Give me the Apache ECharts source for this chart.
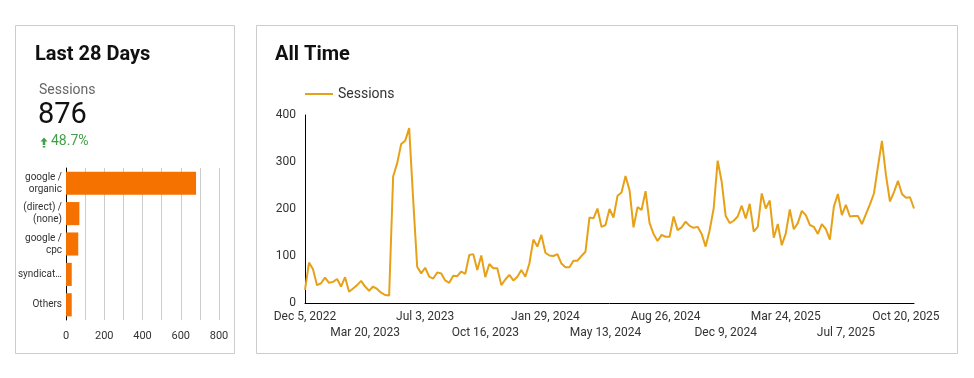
<!DOCTYPE html>
<html>
<head>
<meta charset="utf-8">
<script src="https://cdn.jsdelivr.net/npm/echarts@6/dist/echarts.min.js"></script>
<style>
html,body{margin:0;padding:0;background:#fff;}
#c{width:974px;height:378px;}
</style>
</head>
<body>
<div id="c"></div>
<script>
// ---- Data ----
const sourceCategories = ['google /\norganic', '(direct) /\n(none)', 'google /\ncpc', 'syndicat…', 'Others'];
const sourceSessions = [680, 70, 64, 30, 30];
const barTicks = [0, 200, 400, 600, 800];

const kpiLabel = 'Sessions';
const kpiValue = '876';
const kpiChange = '48.7%';

const startWeek = '2022-12-05';
const sessions = [
  28, 86, 72, 38, 42, 54, 43, 45, 51, 35,
  55, 24, 31, 38, 47, 35, 26, 35, 30, 22,
  17, 16, 269, 297, 338, 345, 372, 220, 77, 63,
  75, 56, 52, 65, 63, 48, 43, 58, 57, 67,
  62, 102, 104, 70, 101, 55, 83, 74, 74, 38,
  50, 60, 48, 56, 70, 56, 84, 135, 120, 145,
  107, 101, 100, 104, 84, 76, 76, 90, 90, 100,
  109, 182, 180, 201, 162, 166, 200, 182, 228, 235,
  270, 240, 161, 204, 198, 238, 170, 147, 132, 145,
  141, 141, 184, 155, 161, 173, 164, 160, 162, 147,
  120, 155, 201, 303, 258, 185, 170, 175, 184, 207,
  180, 211, 152, 162, 233, 201, 218, 139, 168, 123,
  148, 199, 157, 170, 196, 187, 166, 162, 147, 168,
  157, 135, 205, 232, 187, 209, 184, 185, 185, 168,
  189, 210, 233, 290, 345, 272, 216, 236, 260, 232,
  224, 225, 201
];
// x tick labels, alternating in two rows
const dateTicksRow1 = ['Dec 5, 2022','Jul 3, 2023','Jan 29, 2024','Aug 26, 2024','Mar 24, 2025','Oct 20, 2025'];
const dateTicksRow2 = ['Mar 20, 2023','Oct 16, 2023','May 13, 2024','Dec 9, 2024','Jul 7, 2025'];
const yTicks = [0, 100, 200, 300, 400];

// weekly category labels
const MONTHS = ['Jan','Feb','Mar','Apr','May','Jun','Jul','Aug','Sep','Oct','Nov','Dec'];
const weeks = [];
(function(){
  const d0 = new Date(startWeek + 'T00:00:00Z');
  for (let i = 0; i < sessions.length; i++) {
    const d = new Date(d0.getTime() + i * 7 * 86400000);
    weeks.push(MONTHS[d.getUTCMonth()] + ' ' + d.getUTCDate() + ', ' + d.getUTCFullYear());
  }
})();

const FONT = 'Roboto';
const chart = echarts.init(document.getElementById('c'), null, {renderer: 'canvas'});

function dateAxis(ticks, margin, showLine) {
  return {
    gridIndex: 1, type: 'category', data: weeks, boundaryGap: false, position: 'bottom',
    axisLine: {show: showLine, lineStyle: {color: '#000', width: 1}},
    axisTick: {show: false},
    splitLine: {show: false},
    axisLabel: {
      margin: margin, fontSize: 12, color: '#333', fontFamily: FONT,
      showMinLabel: true, showMaxLabel: true, hideOverlap: false,
      interval: (idx, val) => ticks.indexOf(val) >= 0,
      formatter: (val) => ticks.indexOf(val) >= 0 ? val : ''
    }
  };
}

chart.setOption({
  animation: false,
  textStyle: {fontFamily: FONT},
  title: [
    {text: 'Last 28 Days', left: 35, top: 45, padding: 0, textStyle: {fontFamily: FONT, fontSize: 20, fontWeight: 'bold', color: '#111'}},
    {text: 'All Time', left: 275, top: 45, padding: 0, textStyle: {fontFamily: FONT, fontSize: 20, fontWeight: 'bold', color: '#111'}}
  ],
  legend: {
    left: 305, top: 87, padding: 0,
    icon: 'rect', itemWidth: 28, itemHeight: 2, itemGap: 10,
    textStyle: {fontFamily: FONT, fontSize: 14, color: '#333'},
    data: ['Sessions']
  },
  graphic: [
    {type: 'rect', silent: true, z: -10, shape: {x: 15.5, y: 25.5, width: 219, height: 328}, style: {fill: 'none', stroke: '#cccccc', lineWidth: 1}},
    {type: 'rect', silent: true, z: -10, shape: {x: 256.5, y: 25.5, width: 701, height: 328}, style: {fill: 'none', stroke: '#cccccc', lineWidth: 1}},
    {type: 'text', left: 39, top: 83, style: {text: kpiLabel, font: '14px Roboto', fill: '#666'}},
    {type: 'text', left: 38, top: 101, style: {text: kpiValue, font: '29px Roboto', fill: '#111'}},
    {type: 'polygon', shape: {points: [[44, 137.5], [47.5, 141.5], [45.3, 141.5], [45.3, 145], [42.7, 145], [42.7, 141.5], [40.5, 141.5]]}, style: {fill: '#43a047'}},
    {type: 'rect', shape: {x: 42.7, y: 146, width: 2.6, height: 1.5}, style: {fill: '#43a047'}},
    {type: 'text', left: 51, top: 134, style: {text: kpiChange, font: '14px Roboto', fill: '#43a047'}}
  ],
  grid: [
    {left: 66, right: 755, top: 168, bottom: 58, containLabel: false},
    {left: 305, right: 60, top: 115, bottom: 75, containLabel: false}
  ],
  xAxis: [
    {
      gridIndex: 0, type: 'value', min: 0, max: 800, interval: 100,
      axisLine: {show: false}, axisTick: {show: false},
      splitLine: {show: true, lineStyle: {color: '#cccccc', width: 1}},
      axisLabel: {
        margin: 11, fontSize: 11, color: '#333', fontFamily: FONT,
        formatter: v => barTicks.indexOf(v) >= 0 ? String(v) : ''
      }
    },
    dateAxis(dateTicksRow1, 8, true),
    dateAxis(dateTicksRow2, 24, false)
  ],
  yAxis: [
    {
      gridIndex: 0, type: 'category', data: sourceCategories, inverse: true,
      axisLine: {show: true, lineStyle: {color: '#000', width: 1}},
      axisTick: {show: false},
      axisLabel: {margin: 4, fontSize: 10, lineHeight: 12, color: '#333', fontFamily: FONT}
    },
    {
      gridIndex: 1, type: 'value', min: 0, max: 400, interval: 100,
      axisLine: {show: true, lineStyle: {color: '#000', width: 1}},
      axisTick: {show: false},
      splitLine: {show: false},
      axisLabel: {margin: 9, fontSize: 12, color: '#333', fontFamily: FONT,
        formatter: v => yTicks.indexOf(v) >= 0 ? String(v) : ''}
    }
  ],
  series: [
    {
      type: 'bar', name: 'Source sessions', xAxisIndex: 0, yAxisIndex: 0,
      data: sourceSessions, barCategoryGap: '24%',
      itemStyle: {color: '#f57200'}
    },
    {
      type: 'line', name: 'Sessions', xAxisIndex: 1, yAxisIndex: 1,
      data: sessions, symbol: 'none', smooth: false,
      lineStyle: {color: '#e6a118', width: 2},
      itemStyle: {color: '#e6a118'}
    }
  ]
});
</script>
</body>
</html>
